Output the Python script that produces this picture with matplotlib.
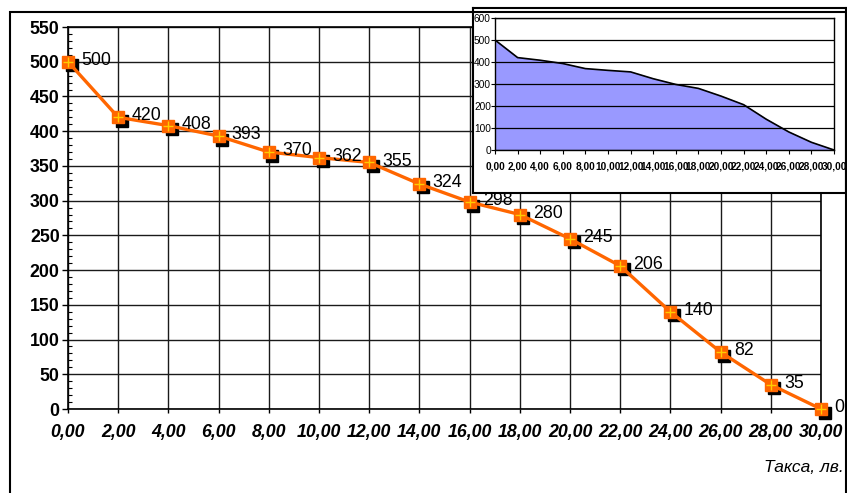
import matplotlib.pyplot as plt
import matplotlib.transforms as mtransforms
from matplotlib.patches import Rectangle
from matplotlib.ticker import MultipleLocator

plt.rcParams['font.family'] = ['Liberation Sans', 'DejaVu Sans']

# tax rate (lv.) vs. amount
taxa = [0, 2, 4, 6, 8, 10, 12, 14, 16, 18, 20, 22, 24, 26, 28, 30]
values = [500, 420, 408, 393, 370, 362, 355, 324, 298, 280, 245, 206, 140, 82, 35, 0]
x_labels = ['%.2f' % t for t in taxa]
x_labels = [s.replace('.', ',') for s in x_labels]

W, H = 847, 493
fig = plt.figure(figsize=(W / 100, H / 100), dpi=100)

def box(l, t, r, b):
    return [l / W, 1 - b / H, (r - l) / W, (b - t) / H]

# outer chart border
fig.patches.append(Rectangle((10 / W, -0.05), 836 / W, 1.05 - 12 / H, transform=fig.transFigure,
                             fill=False, edgecolor='black', lw=1.5, zorder=0))

# ---- main chart ----
ax = fig.add_axes(box(68, 27, 821, 409))
ax.set_xlim(0, 30)
ax.set_ylim(0, 550)
ax.set_xticks(taxa)
ax.set_xticklabels(x_labels, fontsize=12.8, fontweight='bold', fontstyle='italic')
ax.yaxis.set_major_locator(MultipleLocator(50))
ax.yaxis.set_minor_locator(MultipleLocator(10))
for lbl in ax.get_yticklabels():
    lbl.set_fontsize(12.8)
    lbl.set_fontweight('bold')
ax.tick_params(axis='y', which='major', direction='out', length=4, width=1, pad=2)
ax.tick_params(axis='y', which='minor', direction='in', length=3, width=0.8)
ax.tick_params(axis='x', which='major', direction='out', length=3, width=1, pad=8)
ax.grid(True, color='#1a1a1a', lw=1)
ax.set_axisbelow(True)
for s in ax.spines.values():
    s.set_color('black')
    s.set_linewidth(1.2)

shadow = mtransforms.offset_copy(ax.transData, fig=fig, x=3.5, y=-3.5, units='dots')
ax.plot(taxa, values, ls='none', marker='s', ms=9, color='black', transform=shadow, zorder=3, clip_on=False)
ax.plot(taxa, values, color='#FF6600', lw=2.4, marker='s', ms=9, mfc='#FF6600', mec='#FF6600',
        zorder=4, clip_on=False)
ax.plot(taxa, values, ls='none', marker='+', ms=7, mew=1, color='#FFCC00', zorder=5, clip_on=False)
for t, v in zip(taxa, values):
    ax.annotate(str(v), (t, v), xytext=(9.5, 1), textcoords='offset points',
                fontsize=12.8, va='center', ha='left', zorder=6)

fig.text(844 / W, 1 - 468 / H, 'Такса, лв.', fontsize=12.5, fontstyle='italic', ha='right', va='center')

# ---- inset area chart ----
frame = fig.add_axes(box(473, 8, 846, 193))
frame.set_xticks([])
frame.set_yticks([])
frame.set_facecolor('white')
for s in frame.spines.values():
    s.set_color('black')
    s.set_linewidth(1.5)

ins = fig.add_axes(box(495, 18, 834, 150))
ins.fill_between(taxa, values, 0, color='#9999FF')
ins.plot(taxa, values, color='black', lw=1.2)
ins.set_xlim(0, 30)
ins.set_ylim(0, 600)
ins.set_xticks(taxa)
ins.set_xticklabels(x_labels, fontsize=7.3, fontweight='bold')
ins.yaxis.set_major_locator(MultipleLocator(100))
for lbl in ins.get_yticklabels():
    lbl.set_fontsize(7.3)
ins.tick_params(axis='x', direction='out', length=3, width=0.8, pad=5.5)
ins.tick_params(axis='y', direction='out', length=3, width=0.8, pad=0)
ins.yaxis.grid(True, color='black', lw=0.9)
ins.set_axisbelow(False)
for s in ins.spines.values():
    s.set_color('black')
    s.set_linewidth(1)

fig.savefig('out.png', dpi=100)
